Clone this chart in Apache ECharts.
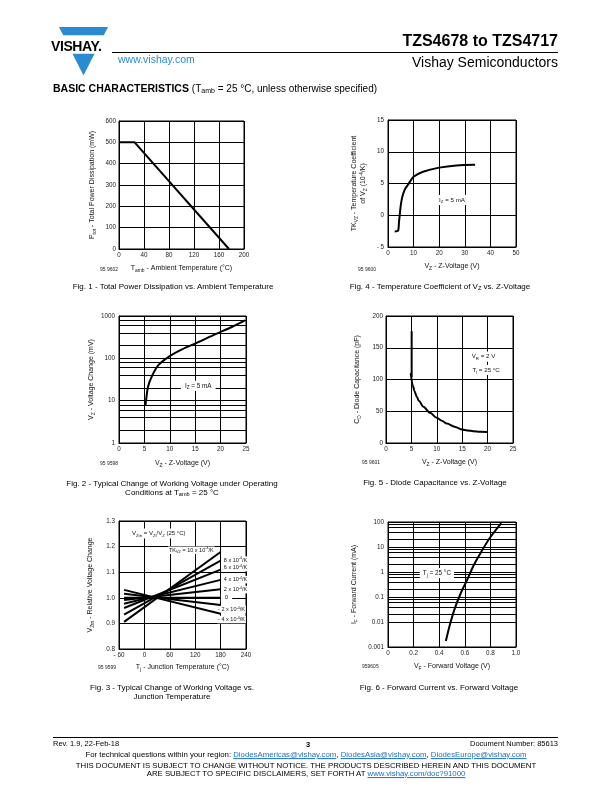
<!DOCTYPE html>
<html><head><meta charset="utf-8"><title>TZS4678 to TZS4717 - Basic Characteristics</title>
<script src="https://cdn.jsdelivr.net/npm/echarts@6.0.0/dist/echarts.min.js"></script>
<style>
html,body{margin:0;padding:0;background:#fff}
body{width:612px;height:792px;position:relative;overflow:hidden;font-family:'Liberation Sans',Arial,Helvetica,sans-serif;color:#000}
#chart{position:absolute;left:0;top:0;width:612px;height:792px}
.t{position:absolute;white-space:nowrap;line-height:1;transform:translateY(-50%)}
.c{transform:translate(-50%,-50%)}
sub{font-size:70%;vertical-align:-0.25em;line-height:0}
sup{font-size:65%;vertical-align:0.45em;line-height:0}
a{color:#1b6fc2;text-decoration:underline}
.cap{font-size:8px}
.fid{font-size:5px;color:#222}
.ft{font-size:7.8px}
</style></head><body>
<div id="chart"></div>

<!-- header -->
<div class="t" style="left:51px;top:46px;font-weight:bold;font-size:14px;letter-spacing:-0.4px">VISHAY.</div>
<div class="t" style="left:118px;top:59px;font-size:10.5px;color:#2b8ad4">www.vishay.com</div>
<div class="t" style="right:54px;top:41px;font-size:16px;font-weight:bold">TZS4678 to TZS4717</div>
<div style="position:absolute;left:112px;top:52px;width:446px;border-top:1px solid #000"></div>
<div class="t" style="right:54px;top:62px;font-size:14px">Vishay Semiconductors</div>
<div class="t" style="left:53px;top:88px;font-size:10.5px"><b>BASIC CHARACTERISTICS</b> <span style="font-size:10px">(T<sub>amb</sub> = 25 °C, unless otherwise specified)</span></div>

<!-- figure ids -->
<div class="t fid" style="left:100px;top:269px">95 9602</div>
<div class="t fid" style="left:358px;top:269px">95 9600</div>
<div class="t fid" style="left:100px;top:463px">95 9598</div>
<div class="t fid" style="left:362px;top:462px">95 9601</div>
<div class="t fid" style="left:98px;top:667px">95 9599</div>
<div class="t fid" style="left:362px;top:666px">959605</div>

<!-- captions -->
<div class="t c cap" style="left:173px;top:287px">Fig. 1 - Total Power Dissipation vs. Ambient Temperature</div>
<div class="t c cap" style="left:440px;top:287px">Fig. 4 - Temperature Coefficient of V<sub>Z</sub> vs. Z-Voltage</div>
<div class="t c cap" style="left:172px;top:484px">Fig. 2 - Typical Change of Working Voltage under Operating</div>
<div class="t c cap" style="left:172px;top:493px">Conditions at T<sub>amb</sub> = 25 °C</div>
<div class="t c cap" style="left:435px;top:483px">Fig. 5 - Diode Capacitance vs. Z-Voltage</div>
<div class="t c cap" style="left:172px;top:688px">Fig. 3 - Typical Change of Working Voltage vs.</div>
<div class="t c cap" style="left:172px;top:697px">Junction Temperature</div>
<div class="t c cap" style="left:439px;top:688px">Fig. 6 - Forward Current vs. Forward Voltage</div>

<!-- footer -->
<div style="position:absolute;left:53px;top:737px;width:505px;border-top:1px solid #000"></div>
<div class="t ft" style="left:53px;top:744px;font-size:7.5px">Rev. 1.9, 22-Feb-18</div>
<div class="t c ft" style="left:308px;top:745px;font-weight:bold;font-size:7.5px">3</div>
<div class="t ft" style="right:54px;top:744px;font-size:7.5px">Document Number: 85613</div>
<div class="t c ft" style="left:306px;top:755px">For technical questions within your region: <a>DiodesAmericas@vishay.com</a>, <a>DiodesAsia@vishay.com</a>, <a>DiodesEurope@vishay.com</a></div>
<div class="t c ft" style="left:306px;top:766px">THIS DOCUMENT IS SUBJECT TO CHANGE WITHOUT NOTICE. THE PRODUCTS DESCRIBED HEREIN AND THIS DOCUMENT</div>
<div class="t c ft" style="left:306px;top:774px">ARE SUBJECT TO SPECIFIC DISCLAIMERS, SET FORTH AT <a>www.vishay.com/doc?91000</a></div>

<script>
// ===== data =====
// Fig. 1 - total power dissipation vs ambient temperature
const fig1Temp = [0, 25, 176];
const fig1Power = [500, 500, 0];
// Fig. 4 - temperature coefficient vs Z-voltage (Iz = 5 mA)
const fig4Vz = [2.6, 3.9, 4.3, 4.6, 5.0, 5.6, 6.5, 7.8, 10, 13.7, 20, 26.8, 34];
const fig4Tk = [-2.55, -2.45, -1.0, 0.1, 1.6, 2.9, 4.0, 4.8, 6.05, 6.85, 7.5, 7.85, 7.95];
// Fig. 2 - voltage change vs Z-voltage (log)
const fig2Vz = [5.2, 5.4, 5.7, 6.4, 7.7, 9.7, 12.3, 15.6, 18.9, 22.2, 24.8];
const fig2dV = [7.7, 12, 21, 36, 68, 107, 160, 241, 369, 550, 790];
const fig2MinorGrid = [2, 4, 6, 8, 20, 40, 60, 80, 200, 400, 600, 800];
// Fig. 5 - diode capacitance vs Z-voltage
const fig5SpikeVz = [5.05, 5.05];
const fig5SpikeCd = [176, 104];
const fig5Vz = [4.87, 5.26, 5.6, 6.05, 6.5, 7.37, 8.68, 10, 11, 12, 13.5, 15, 16, 17.2, 18.5, 20];
const fig5Cd = [110, 91, 82, 73, 66, 57, 47.5, 39.6, 35, 30.6, 25.5, 21.1, 19.8, 18.5, 17.8, 17.4];
// Fig. 3 - relative voltage change vs junction temperature
const fig3Temp = [-48, 180];
const fig3Tk = [10, 8, 6, 4, 2, 0, -2, -4];
const fig3AtLow = [0.906, 0.934, 0.960, 0.977, 0.991, 1.0, 1.016, 1.031];
const fig3AtHigh = [1.179, 1.145, 1.110, 1.070, 1.033, 1.0, 0.972, 0.938];
// Fig. 6 - forward current vs forward voltage (log)
const fig6Vf = [0.452, 0.483, 0.522, 0.574, 0.613, 0.665, 0.73, 0.795, 0.885];
const fig6If = [0.00174, 0.0076, 0.035, 0.166, 0.42, 1.67, 6.6, 23, 91];
const fig6MinorGrid = [0.002, 0.004, 0.006, 0.008, 0.02, 0.04, 0.06, 0.08, 0.2, 0.4, 0.6, 0.8, 2, 4, 6, 8, 20, 40, 60, 80];

// ===== styling helpers =====
const FONT = "'Liberation Sans', Arial, sans-serif";
const BLK = '#000';
const BLUE = '#2a8bd0';
const zip = (a, b) => a.map((v, i) => [v, b[i]]);

function rich(fs) {
  return {
    n: {fontSize: fs, lineHeight: fs + 2, fontFamily: FONT, color: '#111'},
    s: {fontSize: fs * 0.7, lineHeight: fs * 0.6, verticalAlign: 'bottom', fontFamily: FONT, color: '#111'},
    p: {fontSize: fs * 0.65, lineHeight: fs * 0.6, verticalAlign: 'top', fontFamily: FONT, color: '#111'}
  };
}
const nameRich = rich(7);

const grids = [
  {left: 119, top: 121, width: 125, height: 128},   // Fig 1
  {left: 388, top: 120, width: 128, height: 127},   // Fig 4
  {left: 119, top: 316, width: 127, height: 127},   // Fig 2
  {left: 386, top: 316, width: 127, height: 127},   // Fig 5
  {left: 119, top: 521, width: 127, height: 128},   // Fig 3
  {left: 388, top: 522, width: 128, height: 125}    // Fig 6
].map(g => Object.assign({show: true, borderColor: BLK, borderWidth: 1, backgroundColor: 'transparent'}, g));

function axisBase(gi, opt) {
  return Object.assign({
    gridIndex: gi,
    nameLocation: 'middle',
    nameTextStyle: {rich: nameRich},
    axisLine: {show: true, onZero: false, lineStyle: {color: BLK, width: 1}},
    axisTick: {show: false},
    splitLine: {show: true, lineStyle: {color: BLK, width: 1}},
    axisLabel: {fontSize: 6.3, color: '#222', margin: 3, fontFamily: FONT, showMinLabel: true, showMaxLabel: true, hideOverlap: false}
  }, opt);
}
const minusFmt = v => (v < 0 ? '- ' + Math.abs(v) : String(v));
const logFmt = v => String(+(+v).toPrecision(3));

const xAxis = [
  axisBase(0, {type: 'value', min: 0, max: 200, interval: 40, name: '{n|T}{s|amb}{n| - Ambient Temperature (°C)}', nameGap: 15}),
  axisBase(1, {type: 'value', min: 0, max: 50, interval: 10, name: '{n|V}{s|Z}{n| - Z-Voltage (V)}', nameGap: 15}),
  axisBase(2, {type: 'value', min: 0, max: 25, interval: 5, name: '{n|V}{s|Z}{n| - Z-Voltage (V)}', nameGap: 16}),
  axisBase(3, {type: 'value', min: 0, max: 25, interval: 5, name: '{n|V}{s|Z}{n| - Z-Voltage (V)}', nameGap: 15}),
  axisBase(4, {type: 'value', min: -60, max: 240, interval: 60, name: '{n|T}{s|j}{n| - Junction Temperature (°C)}', nameGap: 14, axisLabel: {fontSize: 6.3, color: '#222', margin: 3, fontFamily: FONT, formatter: minusFmt}}),
  axisBase(5, {type: 'value', min: 0, max: 1, interval: 0.2, name: '{n|V}{s|F}{n| - Forward Voltage (V)}', nameGap: 15, axisLabel: {fontSize: 6.3, color: '#222', margin: 3, fontFamily: FONT, formatter: v => (v === 0 ? '0' : v.toFixed(1))}})
];
const yAxis = [
  axisBase(0, {type: 'value', min: 0, max: 600, interval: 100, name: '{n|P}{s|tot}{n| - Total Power Dissipation (mW)}', nameGap: 22}),
  axisBase(1, {type: 'value', min: -5, max: 15, interval: 5, name: '{n|TK}{s|VZ}{n| - Temperature Coefficient}\n{n|of V}{s|Z}{n| (10}{p|-4}{n|/K)}', nameGap: 20, axisLabel: {fontSize: 6.3, color: '#222', margin: 4, fontFamily: FONT, formatter: minusFmt}}),
  axisBase(2, {type: 'log', logBase: 10, min: 1, max: 1000, name: '{n|V}{s|Z}{n| - Voltage Change (mV)}', nameGap: 23, axisLabel: {fontSize: 6.3, color: '#222', margin: 4, fontFamily: FONT, formatter: logFmt}}),
  axisBase(3, {type: 'value', min: 0, max: 200, interval: 50, name: '{n|C}{s|D}{n| - Diode Capacitance (pF)}', nameGap: 24}),
  axisBase(4, {type: 'value', min: 0.8, max: 1.3, interval: 0.1, name: '{n|V}{s|Ztn}{n| - Relative Voltage Change}', nameGap: 24, axisLabel: {fontSize: 6.3, color: '#222', margin: 4, fontFamily: FONT, formatter: v => v.toFixed(1)}}),
  axisBase(5, {type: 'log', logBase: 10, min: 0.001, max: 100, name: '{n|I}{s|F}{n| - Forward Current (mA)}', nameGap: 29, axisLabel: {fontSize: 6.3, color: '#222', margin: 4, fontFamily: FONT, formatter: logFmt}})
];

function curve(gi, data, extra) {
  return Object.assign({
    type: 'line', xAxisIndex: gi, yAxisIndex: gi, data: data,
    symbol: 'none', showSymbol: false, z: 5,
    lineStyle: {color: BLK, width: 2}, silent: true, animation: false
  }, extra || {});
}
function minorGrid(gi, values) {
  return {
    type: 'line', xAxisIndex: gi, yAxisIndex: gi, data: [], z: 1, silent: true, animation: false,
    markLine: {silent: true, animation: false, symbol: ['none', 'none'], label: {show: false},
      lineStyle: {color: BLK, width: 1, type: 'solid'}, emphasis: {disabled: true},
      data: values.map(v => ({yAxis: v}))}
  };
}
function note(coord, text, fs, pos, pad) {
  return {
    coord: coord, symbol: 'circle', symbolSize: 1, itemStyle: {color: 'rgba(0,0,0,0)'},
    label: {show: true, formatter: text, position: pos || 'inside', distance: 0,
      backgroundColor: '#fff', padding: pad || [1, 3], rich: rich(fs)}
  };
}
function notes(gi, list) {
  return {
    type: 'line', xAxisIndex: gi, yAxisIndex: gi, data: [], z: 8, silent: true, animation: false,
    markPoint: {silent: true, animation: false, data: list}
  };
}

const series = [
  curve(0, zip(fig1Temp, fig1Power)),
  curve(1, zip(fig4Vz, fig4Tk), {smooth: 0.3}),
  notes(1, [note([25, 2.4], '{n|I}{s|Z}{n| = 5 mA}', 6.2, 'inside', [1, 1])]),
  minorGrid(2, fig2MinorGrid),
  curve(2, zip(fig2Vz, fig2dV), {smooth: 0.3}),
  notes(2, [note([15.6, 22.3], '{n|I}{s|Z}{n| = 5 mA}', 6.4, 'inside', [1, 4])]),
  curve(3, zip(fig5SpikeVz, fig5SpikeCd)),
  curve(3, zip(fig5Vz, fig5Cd), {smooth: 0.3, smoothMonotone: 'x'}),
  notes(3, [
    note([19.2, 136], '{n|V}{s|R}{n| = 2 V}', 6.2, 'inside', [1, 2]),
    note([19.7, 115], '{n|T}{s|j}{n| = 25 °C}', 6.2, 'inside', [1, 2])
  ])
];
fig3Tk.forEach((tk, i) => {
  series.push(curve(4, [[fig3Temp[0], fig3AtLow[i]], [fig3Temp[1], fig3AtHigh[i]]]));
});
series.push(notes(4, [
  note([34, 1.251], '{n|V}{s|Ztn}{n| = V}{s|Zt}{n|/V}{s|Z}{n| (25 °C)}', 6, 'inside', [1, 2]),
  note([167, 1.186], '{n|TK}{s|VZ}{n| = 10 x 10}{p|-4}{n|/K}', 5.5, 'left', [0, 1]),
  note([184, 1.147], '{n|8 x 10}{p|-4}{n|/K}', 5.5, 'right', [0, 1]),
  note([184, 1.118], '{n|6 x 10}{p|-4}{n|/K}', 5.5, 'right', [0, 1]),
  note([184, 1.071], '{n|4 x 10}{p|-4}{n|/K}', 5.5, 'right', [0, 1]),
  note([184, 1.032], '{n|2 x 10}{p|-4}{n|/K}', 5.5, 'right', [0, 1]),
  note([194, 1.0], '{n|0}', 6, 'inside', [0, 4]),
  note([170.6, 0.955], '{n|- 2 x 10}{p|-4}{n|/K}', 5.5, 'right', [0, 1]),
  note([170.6, 0.915], '{n|- 4 x 10}{p|-4}{n|/K}', 5.5, 'right', [0, 1])
]));
series.push(minorGrid(5, fig6MinorGrid));
series.push(curve(5, zip(fig6Vf, fig6If), {smooth: 0.3}));
series.push(notes(5, [note([0.382, 0.9], '{n|T}{s|j}{n| = 25 °C}', 6.4, 'inside', [1, 3])]));

// Vishay logo (blue triangle split by the name band)
const graphic = [
  {type: 'polygon', silent: true, shape: {points: [[59, 27], [108, 27], [103.8, 35.3], [63.2, 35.3]]}, style: {fill: BLUE}},
  {type: 'polygon', silent: true, shape: {points: [[72.5, 53.7], [94.5, 53.7], [83.5, 75.5]]}, style: {fill: BLUE}}
];

const chart = echarts.init(document.getElementById('chart'), null, {renderer: 'canvas'});
chart.setOption({
  animation: false,
  backgroundColor: 'transparent',
  textStyle: {fontFamily: FONT},
  grid: grids,
  xAxis: xAxis,
  yAxis: yAxis,
  series: series,
  graphic: graphic
});
</script>
</body></html>
